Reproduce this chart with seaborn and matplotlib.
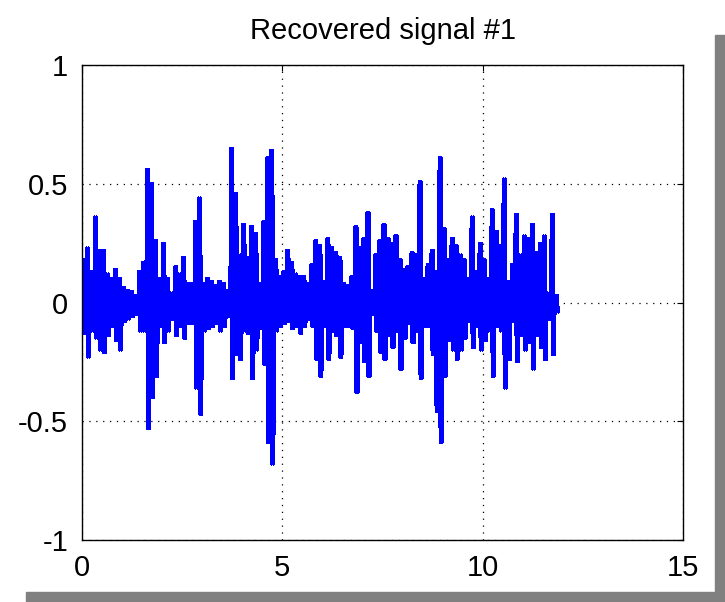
import numpy as np
import pandas as pd
import matplotlib
matplotlib.use("Agg")
import matplotlib.pyplot as plt
from matplotlib.patches import Rectangle
import seaborn as sns

# Upper and lower envelope of the recovered signal, one value per 0.1 s bin (t = 0.0 .. 11.8)
upper = [0.18, 0.23, 0.13, 0.36, 0.22, 0.22, 0.12, 0.10, 0.14, 0.10,
         0.065, 0.05, 0.045, 0.03, 0.13, 0.17, 0.56, 0.50, 0.26, 0.10,
         0.25, 0.10, 0.04, 0.15, 0.12, 0.19, 0.08, 0.08, 0.34, 0.44,
         0.08, 0.10, 0.09, 0.07, 0.09, 0.08, 0.05, 0.65, 0.46, 0.20,
         0.33, 0.19, 0.32, 0.29, 0.08, 0.34, 0.61, 0.64, 0.18, 0.11,
         0.13, 0.22, 0.17, 0.12, 0.11, 0.11, 0.08, 0.16, 0.26, 0.24,
         0.09, 0.27, 0.23, 0.21, 0.19, 0.08, 0.07, 0.11, 0.32, 0.23,
         0.27, 0.38, 0.05, 0.20, 0.26, 0.33, 0.27, 0.25, 0.28, 0.18,
         0.14, 0.15, 0.21, 0.20, 0.51, 0.10, 0.16, 0.22, 0.13, 0.61,
         0.31, 0.18, 0.27, 0.24, 0.20, 0.18, 0.10, 0.36, 0.13, 0.25,
         0.18, 0.10, 0.39, 0.30, 0.24, 0.52, 0.09, 0.16, 0.37, 0.20,
         0.28, 0.27, 0.33, 0.21, 0.25, 0.28, 0.04, 0.37, 0.03]
lower = [-0.13, -0.23, -0.12, -0.15, -0.20, -0.21, -0.14, -0.10, -0.16, -0.20,
         -0.08, -0.07, -0.06, -0.05, -0.12, -0.12, -0.53, -0.40, -0.31, -0.10,
         -0.17, -0.12, -0.07, -0.14, -0.10, -0.15, -0.09, -0.09, -0.36, -0.47,
         -0.12, -0.11, -0.10, -0.09, -0.12, -0.10, -0.06, -0.32, -0.22, -0.24,
         -0.12, -0.13, -0.32, -0.20, -0.11, -0.26, -0.59, -0.68, -0.12, -0.10,
         -0.09, -0.08, -0.11, -0.10, -0.13, -0.10, -0.07, -0.10, -0.24, -0.31,
         -0.10, -0.24, -0.12, -0.14, -0.23, -0.10, -0.10, -0.11, -0.38, -0.17,
         -0.25, -0.31, -0.05, -0.12, -0.21, -0.24, -0.14, -0.19, -0.12, -0.28,
         -0.15, -0.09, -0.17, -0.12, -0.32, -0.10, -0.10, -0.22, -0.46, -0.59,
         -0.31, -0.16, -0.20, -0.24, -0.20, -0.15, -0.08, -0.19, -0.10, -0.20,
         -0.16, -0.12, -0.31, -0.10, -0.12, -0.36, -0.24, -0.08, -0.25, -0.14,
         -0.20, -0.17, -0.28, -0.14, -0.19, -0.24, -0.07, -0.22, -0.04]

title = "Recovered signal #1"
xticks = [0, 5, 10, 15]
yticks = [-1, -0.5, 0, 0.5, 1]
ytick_labels = ["-1", "-0.5", "0", "0.5", "1"]

# dense oscillation: each 0.1 s bin swings between its upper and lower value
n = min(len(upper), len(lower))
bins = np.arange(n) * 0.1
offsets = [0.0125, 0.0375, 0.0625, 0.0875]
t = np.concatenate([[b + o for o in offsets] for b in bins])
v = np.concatenate([[upper[i], lower[i], upper[i], lower[i]] for i in range(n)])
df = pd.DataFrame({"t": t, "v": v})

sns.set_style("white")
plt.rcParams["font.family"] = ["Liberation Sans", "DejaVu Sans"]
plt.rcParams["text.color"] = "black"

fig = plt.figure(figsize=(7.25, 6.02), dpi=100)
ax = fig.add_axes([82 / 725, 62 / 602, 601 / 725, 475 / 602])

sns.lineplot(data=df, x="t", y="v", ax=ax, color=(0, 0, 1), linewidth=1.5,
             estimator=None, sort=False, antialiased=False)

ax.set_xlim(0, 15)
ax.set_ylim(-1, 1)
ax.set_xticks(xticks)
ax.set_xticklabels([str(x) for x in xticks])
ax.set_yticks(yticks)
ax.set_yticklabels(ytick_labels)
ax.set_xlabel("")
ax.set_ylabel("")
ax.grid(True, color="black", linestyle=(0, (1, 4.5)), linewidth=0.9)
ax.tick_params(direction="in", length=4, width=0.8, labelsize=21, pad=10,
               top=True, right=True, colors="black")
for s in ax.spines.values():
    s.set_visible(True)
    s.set_color("black")
    s.set_linewidth(1.0)
ax.set_title(title, fontsize=21, pad=19, color="black")

# drop shadow of the figure frame
fig.patches.append(Rectangle((715 / 725, 0), 10 / 725, 1 - 35 / 602,
                             transform=fig.transFigure, color="#808080", zorder=-1))
fig.patches.append(Rectangle((26 / 725, 0), 1 - 26 / 725, 10 / 602,
                             transform=fig.transFigure, color="#808080", zorder=-1))

fig.savefig("out.png", dpi=100)
